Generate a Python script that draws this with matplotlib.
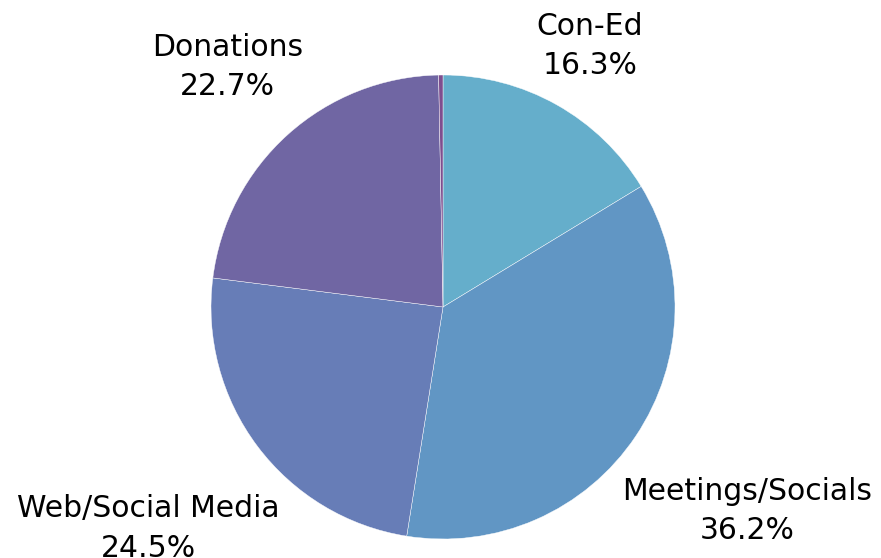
import matplotlib
matplotlib.use("Agg")
import matplotlib.pyplot as plt
import numpy as np

categories = ["Con-Ed", "Meetings/Socials", "Web/Social Media", "Donations", "Other"]
values = [16.3, 36.2, 24.5, 22.7, 0.3]
labels = ["Con-Ed\n16.3%", "Meetings/Socials\n36.2%", "Web/Social Media\n24.5%", "Donations\n22.7%", ""]
colors = ["#65AECB", "#6196C4", "#677DB7", "#7066A3", "#7E4E8E"]
label_dist = [1.29, 1.58, 1.59, 1.39, 1.2]

plt.rcParams['font.family'] = ['DejaVu Sans']

fig = plt.figure(figsize=(8.81, 5.58), dpi=100)
W, H = 881, 558
cx, cy, R = 443, 558 - 307, 232
ax = fig.add_axes([(cx - R) / W, (cy - R) / H, 2 * R / W, 2 * R / H])
wedges, _ = ax.pie(values, colors=colors, startangle=90, counterclock=False,
                   wedgeprops=dict(edgecolor="white", linewidth=0.3))
ax.set_xlim(-1, 1)
ax.set_ylim(-1, 1)
ax.set_aspect('equal')
ax.axis('off')

for w, lab, d in zip(wedges, labels, label_dist):
    if not lab:
        continue
    ang = np.deg2rad((w.theta1 + w.theta2) / 2)
    ax.text(d * np.cos(ang), d * np.sin(ang), lab, ha='center', va='center',
            fontsize=21.5, linespacing=1.45, color='black', clip_on=False)

fig.savefig("out.png", dpi=100)
